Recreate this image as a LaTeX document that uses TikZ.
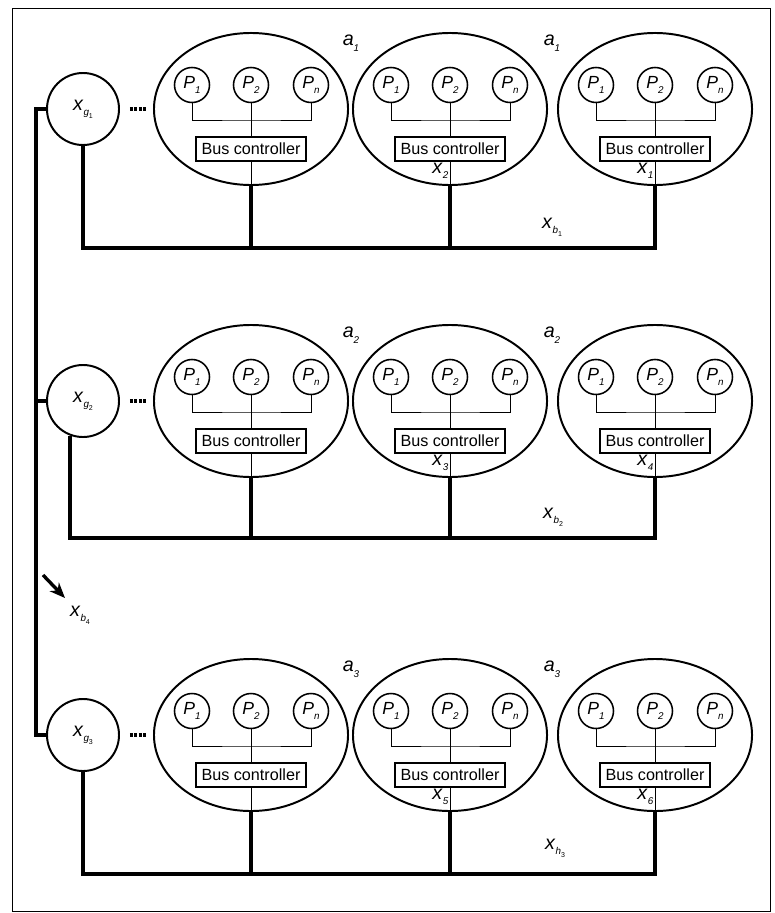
\documentclass[tikz,border=0pt]{standalone}
\usepackage{fontspec}
\setmainfont{Liberation Sans}
\usetikzlibrary{shapes.geometric,arrows.meta,positioning}

\newcommand{\lab}[2]{\textit{#1}\raisebox{-0.55ex}{\scriptsize\textit{#2}}}
\newcommand{\labb}[3]{\textit{#1}\raisebox{-0.55ex}{\scriptsize\textit{#2}\raisebox{-0.5ex}{\tiny #3}}}

\begin{document}
\begin{tikzpicture}[x=0.025cm, y=-0.025cm,
		cluster/.style={draw, ellipse, line width=1.4pt, minimum width=4.85cm, minimum height=3.8cm, inner sep=0pt},
		proc/.style={draw, circle, line width=1.1pt, minimum size=0.875cm, inner sep=0pt, font=\fontsize{12.5}{12.5}\selectfont},
		ctrl/.style={draw, rectangle, line width=1.3pt, minimum width=2.75cm, minimum height=0.62cm, inner sep=0pt, font=\fontsize{11.5}{13}\selectfont},
		gate/.style={draw, circle, line width=1.4pt, minimum size=1.8cm, inner sep=0pt, font=\fontsize{14}{14}\selectfont},
		lbl/.style={inner sep=0pt, font=\fontsize{14}{14}\selectfont},
		wire/.style={line width=0.6pt},
		bus/.style={line width=2.8pt},
		pointer/.style={line width=2.4pt, -{Stealth[length=11pt, width=9pt]}}
	]
		\useasboundingbox (0, 0) rectangle (775, 913);
		\draw[line width=0.6pt]	(12, 8) rectangle (770, 911);

		% three groups, each with its gateway and bus
		\foreach \r/\y/\by/\an/\xa/\xb in {1/109/248/south/2/1, 2/401/538/250/3/4, 3/735/874/south/5/6} {
			\node[gate] (g\r) at (83, \y) {\labb{x}{g}{\r}};
			\draw[bus, dash pattern=on 2pt off 1.2pt]	([xshift=0.25cm]g\r.east) -- ++(16, 0);
			\coordinate (bus\r) at (0, \by);

			\foreach \c/\cx in {1/251, 2/450, 3/655} {
				\node[cluster] (e\r\c) at (\cx, \y) {};
				\node[proc] (p\r\c1) at (\cx-59, \y-24) {\lab{P}{1}};
				\node[proc] (p\r\c2) at (\cx, \y-24) {\lab{P}{2}};
				\node[proc] (p\r\c3) at (\cx+60, \y-24) {\lab{P}{n}};
				\node[ctrl] (b\r\c) at (\cx, \y+40) {Bus controller};
				\coordinate (j\r\c) at (\cx, \y+11);

				\draw[wire]	(p\r\c1.south) |- (j\r\c) -| (p\r\c3.south);
				\draw[wire]	(p\r\c2) -- (b\r\c);
				\draw[wire]	(b\r\c) -- (e\r\c.south);
				\draw[bus]	(e\r\c.south) -- (e\r\c.south |- bus\r);
			}

			\draw[bus]	(g\r.\an) -- (g\r.\an |- bus\r) -- (e\r3.south |- bus\r) -- (e\r3.south);

			\node[lbl] (a\r l) at (351, \y-66) {\lab{a}{\r}};
			\node[lbl] (a\r r) at (552, \y-66) {\lab{a}{\r}};
			\node[lbl, below left=0pt and 1pt of b\r2.south] (x\xa) {\lab{x}{\xa}};
			\node[lbl, below left=0pt and 1pt of b\r3.south] (x\xb) {\lab{x}{\xb}};
		}

		\node[lbl] (xb1) at (552, 227) {\labb{x}{b}{1}};
		\node[lbl] (xb2) at (553, 517) {\labb{x}{b}{2}};
		\node[lbl] (xh3) at (555, 848) {\labb{x}{h}{3}};

		% backbone between the gateways
		\coordinate (bb) at (36, 0);
		\draw[bus]	(g1.west) -- (g1.west -| bb) -- (g3.west -| bb) -- (g3.west);
		\draw[bus]	(g2.west) -- (g2.west -| bb);

		\node[lbl] (xb4) at (80, 615) {\labb{x}{b}{4}};
		\coordinate (ab) at (43, 575);
		\coordinate (at) at (65, 598);
		\draw[pointer]	(ab) -- (at);
	\end{tikzpicture}
\end{document}
